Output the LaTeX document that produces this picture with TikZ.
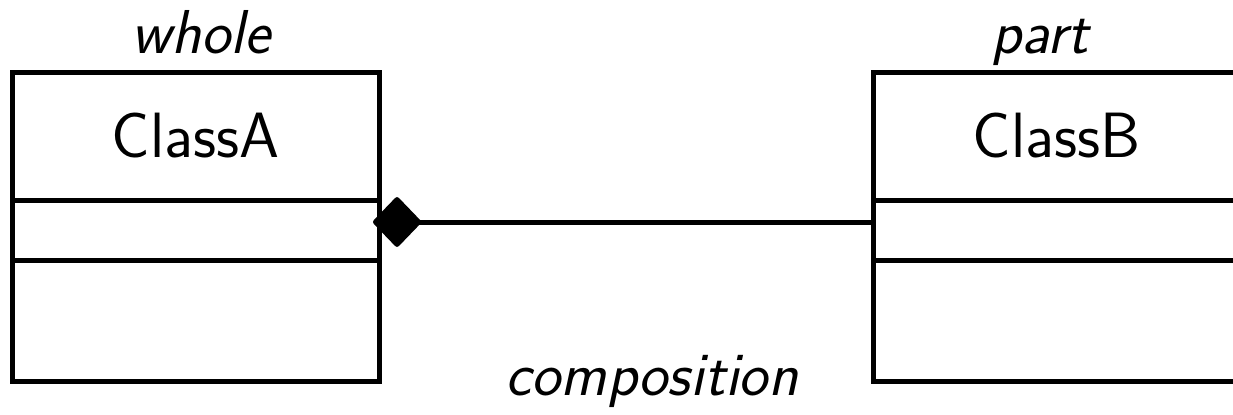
\documentclass[tikz,border=0pt]{standalone}
\usetikzlibrary{arrows.meta}
\begin{document}
\begin{tikzpicture}[x=0.5pt,y=-0.5pt,
  cls/.style={draw, line width=2.5pt, outer sep=0pt, inner sep=0pt, minimum width=183.5pt, font=\fontsize{32}{38}\selectfont\sffamily},
  lbl/.style={anchor=base, inner sep=0pt, font=\fontsize{31}{37}\selectfont\sffamily\itshape}]
\useasboundingbox (0,0) rectangle (1233,414);
\clip (0,0) rectangle (1233,414);
% ClassA
\node[cls, minimum height=64pt] (An) at (195.5,136) {ClassA};
\node[cls, minimum height=30pt] (Aa) at (195.5,230) {};
\node[cls, minimum height=60.5pt] (Ao) at (195.5,320.5) {};
% ClassB
\node[cls, minimum height=64pt] (Bn) at (1056.5,136) {ClassB};
\node[cls, minimum height=30pt] (Ba) at (1056.5,230) {};
\node[cls, minimum height=60.5pt] (Bo) at (1056.5,320.5) {};
% labels
\node[lbl] (whole) at (201,53) {whole};
\node[lbl] (part) at (1040,53) {part};
\node[lbl] (comp) at (652,395) {composition};
% composition
\draw[line width=2.5pt, {Diamond[round,length=25pt,width=26pt]}-, shorten <=-3pt]
  ([yshift=4pt]Aa.east) -- ([yshift=4pt]Ba.west);
\end{tikzpicture}
\end{document}
